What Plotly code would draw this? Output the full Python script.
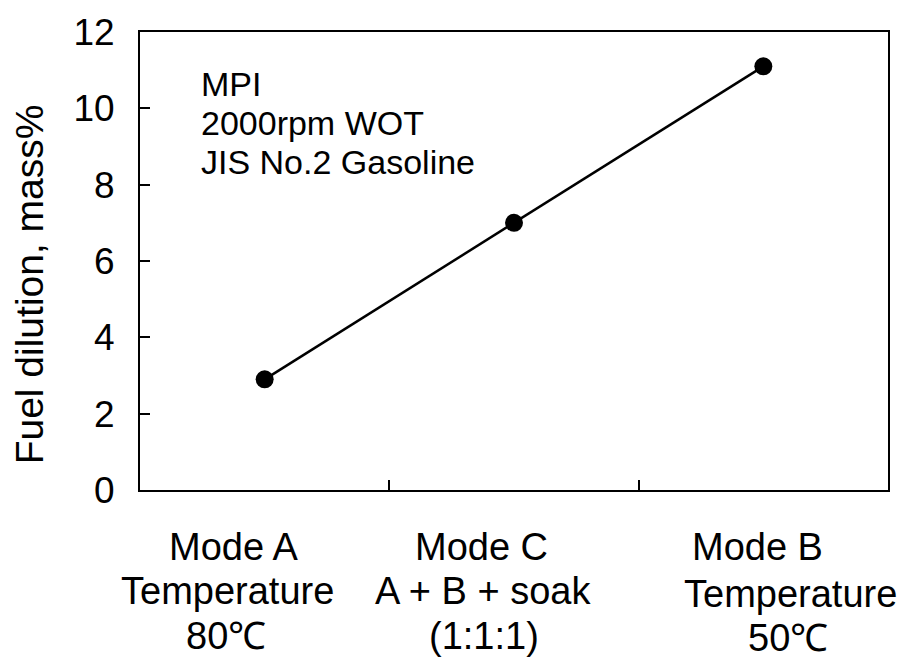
import plotly.graph_objects as go

modes = ["Mode A", "Mode C", "Mode B"]
sublabels = [["Temperature", "80℃"], ["A + B + soak", "(1:1:1)"], ["Temperature", "50℃"]]
dilution = [2.9, 7.0, 11.1]
x_pos = [1, 3, 5]
info_lines = ["MPI", "2000rpm WOT", "JIS No.2 Gasoline"]
y_title = "Fuel dilution, mass%"

L, R, T, B = 140, 15, 29, 174
W, H = 903, 664
pw, ph = W - L - R, H - T - B

def px(x):
    return (x - L) / pw

def py(y):
    return (H - B - y) / ph

FONT = "Liberation Sans, Arial, sans-serif"
FS = 38
DY = 2  # shift from cap centre to text-box centre

fig = go.Figure()
fig.add_trace(go.Scatter(
    x=x_pos, y=dilution, mode="lines+markers",
    line=dict(color="black", width=2.5),
    marker=dict(color="black", size=18),
    showlegend=False, hoverinfo="skip"))

ann = []
label_layout = [
    [(234, 545), (227, 590), (226, 635)],
    [(481, 545), (483, 590), (484, 635)],
    [(757, 545), (790, 593), (788, 637)],
]
for i, m in enumerate(modes):
    texts = [m] + sublabels[i]
    for t, (cx, cy) in zip(texts, label_layout[i]):
        ann.append(dict(text=t, x=px(cx), y=py(cy + DY), xref="paper", yref="paper",
                        xanchor="center", yanchor="middle", showarrow=False,
                        font=dict(size=FS, color="black", family=FONT)))
for j, t in enumerate(info_lines):
    ann.append(dict(text=t, x=px(199), y=py(79 + j * 39.5 + DY), xref="paper", yref="paper",
                    xanchor="left", yanchor="middle", showarrow=False,
                    font=dict(size=34, color="black", family=FONT)))
ann.append(dict(text=y_title, x=px(29), y=py(283), xref="paper", yref="paper",
                xanchor="center", yanchor="middle", showarrow=False, textangle=-90,
                font=dict(size=39, color="black", family=FONT)))

fig.update_layout(
    width=W, height=H,
    margin=dict(l=L, r=R, t=T, b=B),
    paper_bgcolor="white", plot_bgcolor="white",
    annotations=ann,
    xaxis=dict(range=[0, 6], tickvals=[2, 4], ticktext=["", ""], ticks="inside",
               ticklen=10, tickwidth=2, tickcolor="black", showgrid=False, zeroline=False,
               showline=True, linecolor="black", linewidth=2, mirror=True, fixedrange=True),
    yaxis=dict(range=[0, 12], tickvals=[0, 2, 4, 6, 8, 10, 12], ticks="inside",
               ticklen=10, tickwidth=2, tickcolor="black", showgrid=False, zeroline=False,
               showline=True, linecolor="black", linewidth=2, mirror=True,
               ticklabelstandoff=16,
               tickfont=dict(size=37, color="black", family=FONT), fixedrange=True),
)
fig.write_html("out.html", config={"displayModeBar": False},
               post_script="document.body.style.margin='0';")
